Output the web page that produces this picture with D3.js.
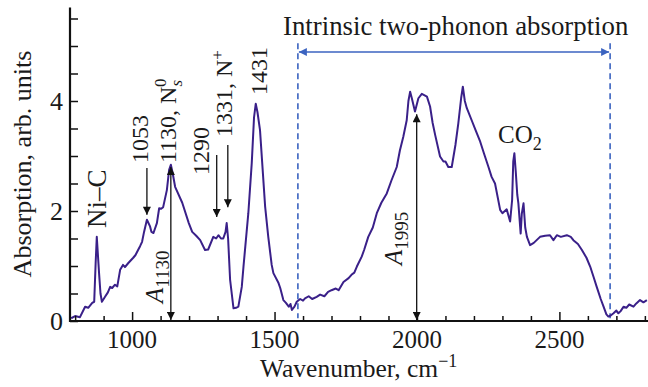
<!DOCTYPE html>
<html>
<head>
<meta charset="utf-8">
<script src="https://cdn.jsdelivr.net/npm/d3@7"></script>
<style>
body {margin:0; background:#fff;}
svg {display:block; font-family:"Liberation Serif","Times New Roman",serif;}
</style>
</head>
<body>
<svg id="chart"></svg>
<script>
//Main container size
var svgWidth = 648;
var svgHeight = 387;

//Spectrum: wavenumber (cm-1) and absorption (arb. units)
var wavenumber = [786,800,817,835,846,860,867,872,876,880,
    884,889,894,905,915,923,930,940,948,958,
    968,975,986,995,1004,1012,1021,1028,1035,1042,
    1052,1063,1068,1075,1087,1095,1102,1109,1122,1130,
    1136,1142,1151,1176,1199,1211,1225,1239,1256,1267,
    1285,1295,1303,1312,1320,1328,1332,1337,1344,1356,
    1365,1373,1385,1391,1408,1420,1428,1434,1440,1449,
    1467,1478,1490,1496,1514,1520,1531,1540,1550,1556,
    1561,1570,1578,1590,1600,1607,1620,1632,1648,1660,
    1675,1688,1700,1715,1725,1742,1760,1770,1780,1789,
    1806,1815,1829,1845,1859,1875,1894,1910,1929,1940,
    1952,1964,1970,1976,1982,1993,2005,2017,2035,2046,
    2055,2064,2081,2093,2100,2110,2122,2135,2145,2155,
    2161,2168,2175,2192,2205,2222,2235,2251,2262,2274,
    2292,2300,2315,2322,2327,2334,2338,2342,2347,2352,
    2356,2364,2368,2374,2380,2386,2397,2410,2432,2450,
    2467,2479,2491,2505,2526,2540,2549,2565,2579,2595,
    2608,2620,2631,2645,2655,2665,2672,2680,2690,2700,
    2707,2715,2725,2735,2745,2760,2770,2783,2795,2807];
var absorption = [0.05,0.09,0.07,0.26,0.24,0.33,0.35,1.05,1.53,1.2,
    0.87,0.5,0.35,0.44,0.52,0.62,0.6,0.66,0.63,0.93,
    1.02,0.98,1.05,1.1,1.15,1.2,1.29,1.36,1.44,1.62,
    1.84,1.72,1.62,1.6,1.78,2.05,2.04,2.07,2.38,2.75,
    2.84,2.7,2.44,2.15,1.78,1.62,1.55,1.47,1.29,1.3,
    1.53,1.5,1.56,1.5,1.5,1.62,1.78,1.5,0.75,0.23,
    0.24,0.26,0.62,0.99,1.96,2.87,3.7,3.95,3.8,3.47,
    2.08,1.53,1.02,0.87,0.69,0.6,0.38,0.33,0.26,0.31,
    0.2,0.26,0.35,0.4,0.37,0.41,0.45,0.4,0.44,0.48,
    0.45,0.53,0.56,0.59,0.56,0.71,0.78,0.84,0.88,0.99,
    1.17,1.3,1.53,1.7,1.96,2.15,2.32,2.55,2.8,3.1,
    3.35,3.65,4.0,4.17,4.05,3.81,4.05,4.13,4.08,3.9,
    3.6,3.38,2.99,2.9,2.9,2.8,2.8,3.2,3.59,4.05,
    4.26,4.0,3.87,3.65,3.48,3.26,3.05,2.8,2.62,2.5,
    2.02,1.96,2.03,1.9,1.81,2.2,2.9,3.05,2.7,2.3,
    2.14,1.59,1.95,2.14,1.7,1.53,1.38,1.42,1.53,1.55,
    1.56,1.47,1.56,1.53,1.56,1.53,1.47,1.4,1.29,1.15,
    0.99,0.8,0.62,0.4,0.26,0.12,0.08,0.1,0.14,0.19,
    0.14,0.18,0.26,0.24,0.3,0.26,0.32,0.38,0.34,0.38];

//Tick values
var xMajorTicks = [1000,1500,2000,2500];
var yLabelTicks = [0,2,4];

//Peak markers: label, arrow position, arrow top/bottom
var peakNames = ["1053","1290","1331"];
var peakArrowX = [1052,1297,1336];
var peakArrowTop = [2.78,3.02,3.2];
var peakArrowBottom = [1.93,1.89,2.07];

//Two-phonon band limits
var bandLimits = [1582,2678];

var curveColor = "#3a2089";
var blue = "#3b63c0";

var svg = d3.select("#chart").attr("width", svgWidth).attr("height", svgHeight);

var x = d3.scaleLinear().domain([782, 2811]).range([70, 648]);
var y = d3.scaleLinear().domain([0, 5.7]).range([321, 7.5]);

//arrowhead markers
var defs = svg.append("defs");
function addMarker(id, color) {
    defs.append("marker")
    .attr("id", id)
    .attr("viewBox", "0 0 10 10")
    .attr("refX", 10).attr("refY", 5)
    .attr("markerUnits", "userSpaceOnUse")
    .attr("markerWidth", 9).attr("markerHeight", 8)
    .attr("orient", "auto-start-reverse")
    .append("path")
    .attr("d", "M0,0 L10,5 L0,10 z")
    .attr("fill", color);
}
addMarker("headBlack", "#111");
addMarker("headBlue", blue);

//dashed band limits
svg.selectAll(".limit")
.data(bandLimits)
.enter()
.append("line")
.attr("class", "limit")
.attr("x1", function(d){return x(d);})
.attr("x2", function(d){return x(d);})
.attr("y1", y(5.05))
.attr("y2", y(0.05))
.attr("stroke", blue)
.attr("stroke-width", 1.6)
.attr("stroke-dasharray", "6,4");

svg.append("line")
.attr("x1", x(bandLimits[0]) + 1).attr("x2", x(bandLimits[1]) - 1)
.attr("y1", y(4.89)).attr("y2", y(4.89))
.attr("stroke", blue).attr("stroke-width", 1.6)
.attr("marker-start", "url(#headBlue)")
.attr("marker-end", "url(#headBlue)");

svg.append("text")
.attr("x", 283).attr("y", 35)
.attr("font-size", 26.8)
.attr("fill", "#1a1a1a")
.text("Intrinsic two-phonon absorption");

//spectrum line
var points = wavenumber.map(function(d, i){return [d, absorption[i]];});
var line = d3.line()
.x(function(d){return x(d[0]);})
.y(function(d){return y(d[1]);});

svg.append("path")
.datum(points)
.attr("d", line)
.attr("fill", "none")
.attr("stroke", curveColor)
.attr("stroke-width", 2)
.attr("stroke-linejoin", "round");

//axes
var xAxis = d3.axisBottom(x).tickValues(d3.range(800, 2801, 100)).tickSize(0).tickFormat("");
var gx = svg.append("g").attr("transform", "translate(0," + y(0) + ")").call(xAxis);
gx.select(".domain").remove();
gx.selectAll(".tick line")
.attr("y2", function(d){return xMajorTicks.indexOf(d) >= 0 ? -9 : -5;})
.attr("stroke", "#111").attr("stroke-width", 1.5);

var yAxis = d3.axisLeft(y).tickValues(d3.range(0, 5.51, 0.5)).tickSize(0).tickFormat("");
var gy = svg.append("g").attr("transform", "translate(" + x(782) + ",0)").call(yAxis);
gy.select(".domain").remove();
gy.selectAll(".tick line").attr("x2", 8).attr("stroke", "#111").attr("stroke-width", 1.5);

svg.append("path")
.attr("d", "M" + x(782) + "," + y(5.7) + "V" + y(0) + "H" + x(2811))
.attr("fill", "none").attr("stroke", "#111").attr("stroke-width", 2.2);

svg.selectAll(".xlabel")
.data(xMajorTicks)
.enter()
.append("text")
.attr("class", "xlabel")
.attr("x", function(d){return x(d);})
.attr("y", 348)
.attr("text-anchor", "middle")
.attr("font-size", 25)
.attr("fill", "#1a1a1a")
.text(function(d){return d;});

svg.selectAll(".ylabel")
.data(yLabelTicks)
.enter()
.append("text")
.attr("class", "ylabel")
.attr("x", 63)
.attr("y", function(d){return y(d) + 9;})
.attr("text-anchor", "end")
.attr("font-size", 26)
.attr("fill", "#1a1a1a")
.text(function(d){return d;});

//axis titles
var xt = svg.append("text")
.attr("x", 260).attr("y", 376.5)
.attr("font-size", 25.5).attr("fill", "#1a1a1a")
.text("Wavenumber, cm");
xt.append("tspan").attr("dy", -10).attr("font-size", 18).text("\u22121");

svg.append("text")
.attr("transform", "translate(31,164) rotate(-90)")
.attr("text-anchor", "middle")
.attr("font-size", 26).attr("fill", "#1a1a1a")
.text("Absorption, arb. units");

//rotated helper
function rotText(px, py) {
    return svg.append("text")
    .attr("transform", "translate(" + px + "," + py + ") rotate(-90)")
    .attr("font-size", 24)
    .attr("fill", "#1a1a1a");
}

function arrow(x1, y1, x2, y2, both) {
    var a = svg.append("line")
    .attr("x1", x1).attr("y1", y1).attr("x2", x2).attr("y2", y2)
    .attr("stroke", "#111").attr("stroke-width", 1.3)
    .attr("marker-end", "url(#headBlack)");
    if (both) a.attr("marker-start", "url(#headBlack)");
}

//peak arrows and labels
for (var i = 0; i < peakNames.length; i++) {
    arrow(x(peakArrowX[i]), y(peakArrowTop[i]), x(peakArrowX[i]), y(peakArrowBottom[i]), false);
}
rotText(x(1052) + 1, 163).text(peakNames[0]);
rotText(x(1297) - 8, 175).text(peakNames[1]);
var t1331 = rotText(x(1336) + 4, 137).text(peakNames[2] + ", N");
t1331.append("tspan").attr("dy", -9).attr("font-size", 17).text("+");
rotText(x(1434) + 11, 95).text("1431");

var t1130 = rotText(x(1136) + 5, 163).text("1130, N");
t1130.append("tspan").attr("dy", 6).attr("font-size", 17).attr("font-style", "italic").text("s");
t1130.append("tspan").attr("dx", -7).attr("dy", -16).attr("font-size", 17).text("0");

rotText(106, 228).attr("font-size", 27).text("Ni\u2013C");

//A1130 and A1995 heights
arrow(x(1136), y(0.02), x(1136), y(2.8), true);
var a1 = rotText(163, 303).attr("font-size", 25);
a1.append("tspan").attr("font-style", "italic").text("A");
a1.append("tspan").attr("dy", 6).attr("font-size", 19).text("1130");

arrow(x(1999), y(0.02), x(1999), y(3.76), true);
var a2 = rotText(402, 265).attr("font-size", 25);
a2.append("tspan").attr("font-style", "italic").text("A");
a2.append("tspan").attr("dy", 6).attr("font-size", 19).text("1995");

var co = svg.append("text")
.attr("x", 498).attr("y", 143)
.attr("font-size", 25).attr("fill", "#1a1a1a")
.text("CO");
co.append("tspan").attr("dy", 7).attr("font-size", 18).text("2");
</script>
</body>
</html>
